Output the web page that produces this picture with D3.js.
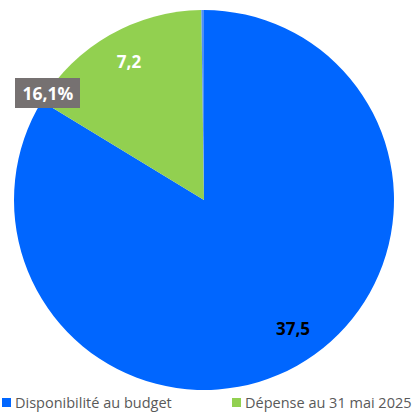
<!DOCTYPE html>
<html>
<head>
<meta charset="utf-8">
<script src="https://cdn.jsdelivr.net/npm/d3@7"></script>
<style>
  body { margin: 0; background: #fff; }
  svg text { font-family: "Open Sans", sans-serif; }
</style>
</head>
<body>
<div id="chart"></div>
<script>
var categories = ['Disponibilité au budget', 'Dépense au 31 mai 2025', 'Autre'];
var values = [37.5, 7.2, 0.1];
var colors = ['#0066FF', '#92D050', '#4D8FF8'];
var legendItems = [0, 1];

var svgWidth = 415, svgHeight = 419;
var cx = 204, cy = 200, radius = 190;

var svg = d3.select('#chart').append('svg')
    .attr('width', svgWidth).attr('height', svgHeight);

var data = categories.map(function(c, i) { return { name: c, value: values[i], color: colors[i] }; });
var total = d3.sum(values);

var pie = d3.pie().value(d => d.value).sort(null);
var arc = d3.arc().innerRadius(0).outerRadius(radius);
var arcs = pie(data);

var g = svg.append('g').attr('transform', `translate(${cx},${cy})`);

g.selectAll('path')
    .data(arcs)
    .enter()
    .append('path')
    .attr('d', arc)
    .attr('fill', d => d.data.color);

var fmt = v => String(v).replace('.', ',');

// value label on the blue slice
var blue = arcs[0];
g.append('text')
    .attr('x', 89).attr('y', 135)
    .attr('text-anchor', 'middle')
    .attr('font-size', 17).attr('font-weight', 'bold')
    .attr('fill', '#000')
    .text(fmt(blue.data.value));

// value label on the green slice
var green = arcs[1];
g.append('text')
    .attr('x', -75).attr('y', -132)
    .attr('text-anchor', 'middle')
    .attr('font-size', 17).attr('font-weight', 'bold')
    .attr('fill', '#fff')
    .text(fmt(green.data.value));

// percentage box
var pct = (green.data.value / total * 100).toFixed(1).replace('.', ',') + '%';
svg.append('rect')
    .attr('x', 15).attr('y', 78).attr('width', 65).attr('height', 30)
    .attr('fill', '#767171');
svg.append('text')
    .attr('x', 48).attr('y', 100)
    .attr('text-anchor', 'middle')
    .attr('font-size', 17.5).attr('font-weight', 'bold')
    .attr('fill', '#fff')
    .text(pct);

// legend
var legendX = [2, 232];
var legend = svg.selectAll('.legend')
    .data(legendItems)
    .enter()
    .append('g')
    .attr('class', 'legend')
    .attr('transform', (d, i) => `translate(${legendX[i]},398)`);

legend.append('rect')
    .attr('width', 9).attr('height', 9)
    .attr('fill', d => colors[d]);
legend.append('text')
    .attr('x', 13).attr('y', 10)
    .attr('font-size', 14.5)
    .attr('fill', '#595959')
    .text(d => categories[d]);
</script>
</body>
</html>
